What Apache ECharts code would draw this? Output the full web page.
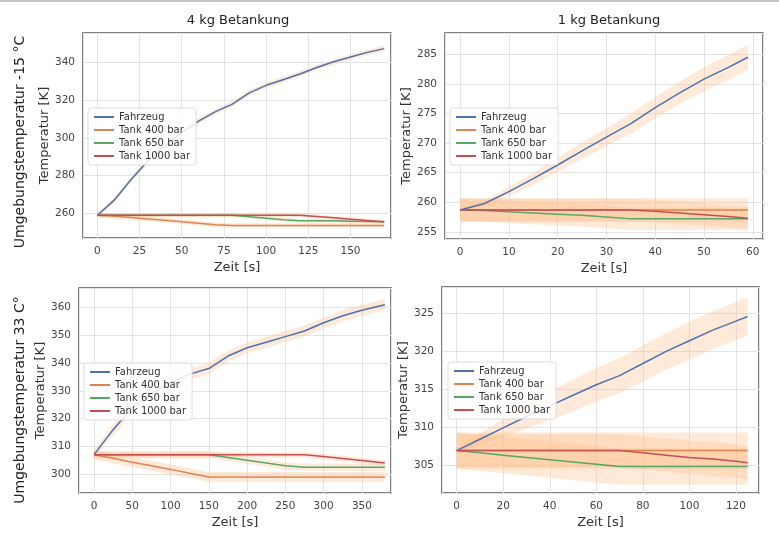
<!DOCTYPE html>
<html><head><meta charset="utf-8">
<script src="https://cdn.jsdelivr.net/npm/echarts@6/dist/echarts.min.js"></script>
<style>html,body{margin:0;padding:0;background:#fff}#c{width:779px;height:536px}</style>
</head><body><div id="c"></div>
<script>
const seriesNames = ['Fahrzeug','Tank 400 bar','Tank 650 bar','Tank 1000 bar'];
const colors = ['#4c72b0','#dd8452','#55a868','#c44e52'];
const panelTitles = ['4 kg Betankung','1 kg Betankung'];
const rowLabels = ['Umgebungstemperatur -15 °C','Umgebungstemperatur 33 C°'];

// Panel 1: -15 °C, 4 kg
const x1 = [0,10,20,30,40,50,60,70,80,90,100,110,120,130,140,150,160,170];
const p1Fahrzeug = [259,267,278,288,296,303,309,314,318,324,328,331,334,337.5,340.5,343,345.5,347.5];
const p1T400 = [259,258.5,257.8,257,256.3,255.5,254.8,254,253.5,253.5,253.5,253.5,253.5,253.5,253.5,253.5,253.5,253.5];
const p1T650 = [259,259,259,259,259,259,259,259,259,258.2,257.4,256.6,256,256,256,255.8,255.6,255.5];
const p1T1000 = [259,259,259,259,259,259,259,259,259,259,259,259,259,258.3,257.6,256.9,256.2,255.5];
const p1Band = [[1.5,1.5,1.5,1.5,1.5,1.5,1.5,1.5,1.5,1.5,1.5,1.5,1.5,1.5,1.5,1.5,1.5,1.5],
  [1.2,1.2,1.2,1.2,1.2,1.2,1.2,1.2,1.2,1.2,1.2,1.2,1.2,1.2,1.2,1.2,1.2,1.2],
  [1,1,1,1,1,1,1,1,1,1,1,1,1,1,1,1,1,1],
  [1,1,1,1,1,1,1,1,1,1,1,1,1,1,1,1,1,1]];

// Panel 2: -15 °C, 1 kg
const x2 = [0,5,10,15,20,25,30,35,40,45,50,55,59];
const p2Fahrzeug = [258.7,259.8,261.8,264,266.3,268.7,271,273.3,276,278.5,280.8,282.8,284.5];
const p2T400 = [258.7,258.7,258.7,258.7,258.7,258.7,258.7,258.7,258.7,258.7,258.7,258.7,258.7];
const p2T650 = [258.7,258.6,258.4,258.2,258,257.8,257.5,257.2,257.2,257.2,257.2,257.2,257.2];
const p2T1000 = [258.7,258.7,258.7,258.7,258.7,258.7,258.7,258.7,258.5,258.2,257.9,257.6,257.3];
const p2Band = [[0.3,0.5,0.8,1,1.2,1.4,1.5,1.7,1.8,1.9,2,2.1,2.1],
  [2,2,2,2,2,2,2,2,2,2,2,2,2],
  [1.9,1.9,1.9,1.9,1.9,1.9,1.9,1.9,1.9,1.9,1.9,1.9,1.9],
  [1.9,1.9,1.9,1.9,1.9,1.9,1.9,1.9,1.9,1.9,1.9,1.9,1.9]];

// Panel 3: 33 °C, 4 kg
const x3 = [0,25,50,75,100,125,150,175,200,225,250,275,300,325,350,380];
const p3Fahrzeug = [307,316,324,329,333,336,338,342.5,345.5,347.5,349.5,351.5,354.5,357,359,361];
const p3T400 = [307,305.7,304.3,303,301.7,300.3,299,299,299,299,299,299,299,299,299,299];
const p3T650 = [307,307,307,307,307,307,307,306,305,304,303,302.5,302.5,302.5,302.5,302.5];
const p3T1000 = [307,307,307,307,307,307,307,307,307,307,307,307,306.3,305.6,304.9,304];
const p3Band = [[1.5,2,2,2,2,2,2,2,2,2,2,2,2,2,2,2],
  [1.8,1.8,1.8,1.8,1.8,1.8,1.8,1.8,1.8,1.8,1.8,1.8,1.8,1.8,1.8,1.8],
  [1.3,1.3,1.3,1.3,1.3,1.3,1.3,1.3,1.3,1.3,1.3,1.3,1.3,1.3,1.3,1.3],
  [1,1,1,1,1,1,1,1,1,1,1,1,1,1,1,1]];

// Panel 4: 33 °C, 1 kg
const x4 = [0,10,20,30,40,50,60,70,80,90,100,110,120,125];
const p4Fahrzeug = [306.9,308.4,309.9,311.4,312.8,314.2,315.6,316.8,318.4,320,321.4,322.8,324,324.6];
const p4T400 = [306.9,306.9,306.9,306.9,306.9,306.9,306.9,306.9,306.9,306.9,306.9,306.9,306.9,306.9];
const p4T650 = [306.9,306.6,306.3,306,305.7,305.4,305.1,304.8,304.8,304.8,304.8,304.8,304.8,304.8];
const p4T1000 = [306.9,306.9,306.9,306.9,306.9,306.9,306.9,306.9,306.6,306.3,306,305.8,305.5,305.3];
const p4Band = [[0.3,0.8,1.2,1.6,1.9,2.1,2.2,2.3,2.4,2.4,2.5,2.5,2.5,2.5],
  [2.4,2.4,2.4,2.4,2.4,2.4,2.4,2.4,2.4,2.4,2.4,2.4,2.4,2.4],
  [2.4,2.4,2.4,2.4,2.4,2.4,2.4,2.4,2.4,2.4,2.4,2.4,2.4,2.4],
  [2.2,2.2,2.2,2.2,2.2,2.2,2.2,2.2,2.2,2.2,2.2,2.2,2.2,2.2]];

const panels = [
  {x:x1, ys:[p1Fahrzeug,p1T400,p1T650,p1T1000], band:p1Band, grid:{left:83,top:33,width:308,height:205}, xr:[-8.5,174,25], yr:[246.9,355.8,20], leg:[88,108]},
  {x:x2, ys:[p2Fahrzeug,p2T400,p2T650,p2T1000], band:p2Band, grid:{left:445,top:33,width:318,height:206}, xr:[-3.1,62.1,10], yr:[253.8,288.6,5], leg:[450,108]},
  {x:x3, ys:[p3Fahrzeug,p3T400,p3T650,p3T1000], band:p3Band, grid:{left:79,top:288,width:312,height:205}, xr:[-19.6,388,50], yr:[293.2,367,10], leg:[84,363]},
  {x:x4, ys:[p4Fahrzeug,p4T400,p4T650,p4T1000], band:p4Band, grid:{left:442,top:287,width:317,height:206}, xr:[-6.3,129.9,20], yr:[301.3,328.5,5], leg:[448,362]}
];

const grids=[], xAxes=[], yAxes=[], series=[], legends=[];
const lab = {color:'#444', fontSize:10.5, fontFamily:'DejaVu Sans'};
panels.forEach((p,i)=>{
  grids.push(Object.assign({show:true, borderColor:'#555', borderWidth:1.5, backgroundColor:'#fff'}, p.grid));
  const common = {type:'value', gridIndex:i, axisLine:{show:false}, axisTick:{show:false},
    splitLine:{show:true, lineStyle:{color:'#e3e3e3', width:1}},
    axisLabel:Object.assign({showMinLabel:false, showMaxLabel:false}, lab),
    nameTextStyle:{color:'#333', fontSize:13, fontFamily:'DejaVu Sans'}, nameLocation:'middle'};
  xAxes.push(Object.assign({}, common, {min:p.xr[0], max:p.xr[1], minInterval:p.xr[2], maxInterval:p.xr[2], name:'Zeit [s]', nameGap:23}));
  yAxes.push(Object.assign({}, common, {min:p.yr[0], max:p.yr[1], minInterval:p.yr[2], maxInterval:p.yr[2], name:'Temperatur [K]', nameGap:30}));
  p.ys.forEach((ys,k)=>{
    const bandData = p.x.map((xv,j)=>[xv, ys[j]-p.band[k][j], ys[j]+p.band[k][j]]);
    series.push({type:'custom', xAxisIndex:i, yAxisIndex:i, silent:true, z:1, clip:true,
      encode:{x:0, y:[1,2]}, data:bandData,
      renderItem:(params, api)=>{
        if (params.dataIndex !== 0) return null;
        const up = bandData.map(d=>api.coord([d[0], d[2]]));
        const lo = bandData.map(d=>api.coord([d[0], d[1]])).reverse();
        return {type:'polygon', shape:{points:up.concat(lo)}, style:{fill:'rgba(255,190,140,0.33)'}};
      }});
  });
  p.ys.forEach((ys,k)=>{
    series.push({type:'line', name:seriesNames[k], xAxisIndex:i, yAxisIndex:i, symbol:'none', z:3,
      color:colors[k], lineStyle:{color:colors[k], width:1.5}, data:p.x.map((xv,j)=>[xv, ys[j]])});
  });
  legends.push({data:seriesNames, orient:'vertical', left:p.leg[0], top:p.leg[1], selectedMode:false,
    backgroundColor:'rgba(255,255,255,0.85)', borderColor:'#ddd', borderWidth:1, borderRadius:3,
    padding:[4,6], itemGap:3, itemWidth:20, itemHeight:2, icon:'rect',
    textStyle:{color:'#333', fontSize:10, fontFamily:'DejaVu Sans'}});
});

const chart = echarts.init(document.getElementById('c'));
chart.setOption({
  animation:false,
  title:[
    {text:panelTitles[0], left:233, top:9, textAlign:'center', textStyle:{fontSize:13, fontWeight:'normal', color:'#222', fontFamily:'DejaVu Sans'}},
    {text:panelTitles[1], left:604, top:9, textAlign:'center', textStyle:{fontSize:13, fontWeight:'normal', color:'#222', fontFamily:'DejaVu Sans'}}
  ],
  graphic:[
    {type:'line', shape:{x1:0,y1:1,x2:779,y2:1}, style:{stroke:'#888', lineWidth:1}},
    {type:'text', x:20, y:142, rotation:Math.PI/2, style:{text:rowLabels[0], fill:'#222', fontSize:14, fontFamily:'DejaVu Sans', align:'center', verticalAlign:'middle'}},
    {type:'text', x:20, y:400, rotation:Math.PI/2, style:{text:rowLabels[1], fill:'#222', fontSize:14, fontFamily:'DejaVu Sans', align:'center', verticalAlign:'middle'}}
  ],
  grid:grids, xAxis:xAxes, yAxis:yAxes, legend:legends, series:series
});
</script></body></html>
